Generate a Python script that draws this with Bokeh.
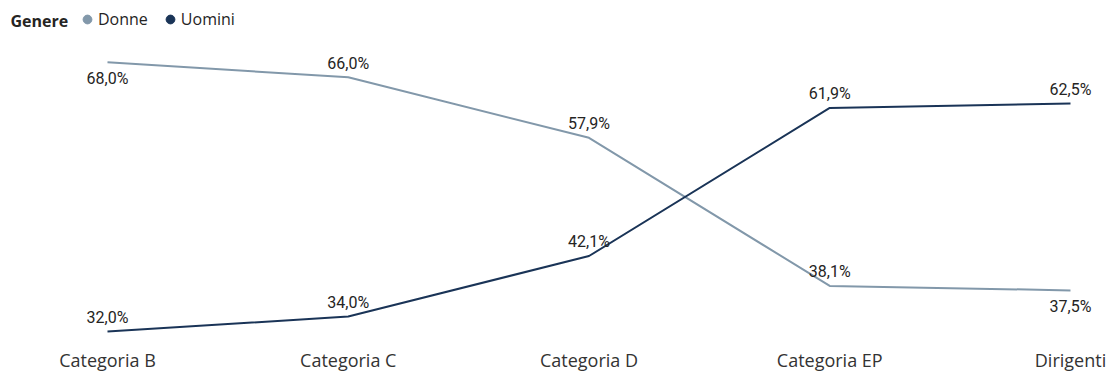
from bokeh.plotting import figure
from bokeh.models import (ColumnDataSource, LabelSet, Label, Legend, LegendItem,
                          Range1d, FixedTicker)
from bokeh.core.properties import value
from bokeh.embed import file_html
from bokeh.resources import INLINE

categories = ["Categoria B", "Categoria C", "Categoria D", "Categoria EP", "Dirigenti"]
donne = [68.0, 66.0, 57.9, 38.1, 37.5]
uomini = [32.0, 34.0, 42.1, 61.9, 62.5]
donne_pos = ["below", "above", "above", "above", "below"]
uomini_pos = ["above", "above", "above", "above", "above"]

C_DONNE = "#8298AA"
C_UOMINI = "#1A3457"
TXT = "#252423"

W, H = 1107, 374
FB = 335  # expected frame height in px
y_top = 68 + 62 / 7.5
y_bot = 68 - (FB - 62) / 7.5
p = figure(width=W, height=H, output_backend="svg", toolbar_location=None,
           x_range=Range1d(-0.4444, 4.1537), y_range=Range1d(y_bot, y_top),
           min_border_left=0, min_border_right=0, min_border_top=0,
           min_border_bottom=H - FB)
p.outline_line_color = None
p.grid.visible = False
p.yaxis.visible = False
p.background_fill_color = "white"
p.border_fill_color = "white"

xs = list(range(len(categories)))

def fmt(v):
    return ("%.1f%%" % v).replace(".", ",")

def off(pos):
    return [14 if s == "above" else -16 for s in pos]

src_d = ColumnDataSource(dict(x=xs, y=donne, t=[fmt(v) for v in donne], o=off(donne_pos)))
src_u = ColumnDataSource(dict(x=xs, y=uomini, t=[fmt(v) for v in uomini], o=off(uomini_pos)))

ld = p.line("x", "y", source=src_d, line_color=C_DONNE, line_width=2)
lu = p.line("x", "y", source=src_u, line_color=C_UOMINI, line_width=2)

# legend-only markers (hidden on the chart)
sd = p.scatter("x", "y", source=src_d, size=9, color=C_DONNE, visible=False)
su = p.scatter("x", "y", source=src_u, size=9, color=C_UOMINI, visible=False)

for s in (src_d, src_u):
    p.add_layout(LabelSet(x="x", y="y", text="t", y_offset="o", source=s,
                          text_align="center", text_baseline="middle",
                          text_font=value("Roboto"), text_font_size=value("16px"),
                          text_color=TXT))

ax = p.xaxis[0]
ax.ticker = FixedTicker(ticks=xs)
ax.major_label_overrides = {i: c for i, c in enumerate(categories)}
ax.axis_line_color = None
ax.major_tick_line_color = None
ax.minor_tick_line_color = None
ax.major_tick_out = 0
ax.major_tick_in = 0
ax.major_label_text_font = "Open Sans"
ax.major_label_text_font_size = "18px"
ax.major_label_text_color = "#333333"
ax.major_label_text_baseline = "bottom"
ax.major_label_standoff = 13

p.add_layout(Label(x=10, y=FB - 21, x_units="screen", y_units="screen",
                   text="Genere", text_font="Open Sans", text_font_style="bold",
                   text_font_size="16px", text_color=TXT, text_baseline="middle"))

legend = Legend(items=[LegendItem(label="Donne", renderers=[sd]),
                       LegendItem(label="Uomini", renderers=[su])],
                orientation="horizontal", location=(76, FB - 31),
                background_fill_alpha=0, border_line_color=None,
                inactive_fill_alpha=0,
                padding=0, margin=0, spacing=11, label_standoff=-6,
                glyph_width=22, glyph_height=22,
                label_text_font="Open Sans", label_text_font_size="16px",
                label_text_color=TXT)
p.add_layout(legend)

open("out.html", "w").write(file_html(p, INLINE))
